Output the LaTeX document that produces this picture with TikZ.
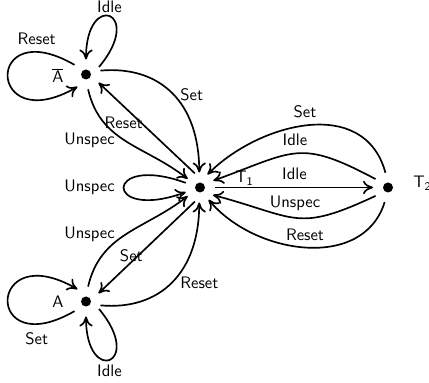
\documentclass[tikz,border=0pt]{standalone}
\usetikzlibrary{arrows.meta}
\begin{document}
\begin{tikzpicture}[x=0.6pt,y=0.6pt,
  font=\sffamily,
  st/.style={circle,fill=black,inner sep=0pt,minimum size=6pt,outer sep=6pt},
  lbl/.style={inner sep=0pt},
  slbl/.style={inner sep=0pt,anchor=base west},
  edge/.style={line width=1pt,-{To[length=6pt,width=8pt]}}]
\useasboundingbox (0,0) rectangle (429,383);
% states
\node[st] (Ab) at (86,308.5) {};
\node[st] (T1) at (200,195.5) {};
\node[st] (T2) at (388,195.5) {};
\node[st] (A) at (86,81.5) {};
% state names
\node[slbl] (lAb) at (52,300) {$\overline{\mathsf{A}}$};
\node[slbl] (lA) at (52,75) {A};
\node[slbl] (lT1) at (235,200) {$\mathsf{T_1}$};
\node[slbl] (lT2) at (413,195) {$\mathsf{T_2}$};
% edges around Abar
\draw[edge] (Ab.140) .. controls +(150:105) and +(210:105) .. (Ab.235);
\draw[edge] (Ab.30) .. controls +(50:72) and +(90:70) .. (Ab.90);
\draw[edge] (Ab.15) .. controls +(5:60) and +(90:70) .. (T1.93);
\draw[edge] (T1.110) -- (Ab.-33);
\draw[edge] (Ab.-82) .. controls +(283:55) and +(142:55) .. (T1.145);
% loop at T1
\draw[edge] (T1.162) .. controls +(160:88) and +(200:88) .. (T1.198);
% T1 <-> T2
\draw[edge] (T1.east) -- (T2.west);
\draw[edge] (T2.100) .. controls +(105:80) and +(45:73) .. (T1.60);
\draw[edge] (T2.146) .. controls +(152:87) and +(20:87) .. (T1.27);
\draw[edge] (T2.214) .. controls +(205:88) and +(-15:88) .. (T1.-30);
\draw[edge] (T2.257) .. controls +(253:72) and +(-50:72) .. (T1.-55);
% edges around A
\draw[edge] (A.220) .. controls +(210:105) and +(150:105) .. (A.125);
\draw[edge] (A.-30) .. controls +(-50:72) and +(-90:70) .. (A.-90);
\draw[edge] (A.-15) .. controls +(-5:60) and +(-90:70) .. (T1.-93);
\draw[edge] (T1.-110) -- (A.33);
\draw[edge] (A.82) .. controls +(77:55) and +(-142:55) .. (T1.-145);
% edge labels
\node[lbl] (l1) at (36.7,344) {Reset};
\node[lbl] (l2) at (109.5,376.5) {Idle};
\node[lbl,anchor=west] (l3) at (180,288.5) {Set};
\node[lbl,anchor=east] (l4) at (143,260.5) {Reset};
\node[lbl,anchor=east] (l5) at (115,243) {Unspec};
\node[lbl,anchor=east] (l6) at (115,195.5) {Unspec};
\node[lbl] (l7) at (305,271.5) {Set};
\node[lbl] (l8) at (295,243) {Idle};
\node[lbl] (l9) at (294.5,209) {Idle};
\node[lbl] (l10) at (295,179.5) {Unspec};
\node[lbl] (l11) at (305,148) {Reset};
\node[lbl,anchor=east] (l12) at (115,149) {Unspec};
\node[lbl,anchor=east] (l13) at (143,127) {Set};
\node[lbl,anchor=west] (l14) at (180,100) {Reset};
\node[lbl] (l15) at (36.7,44) {Set};
\node[lbl] (l16) at (109.5,12) {Idle};
\end{tikzpicture}
\end{document}
